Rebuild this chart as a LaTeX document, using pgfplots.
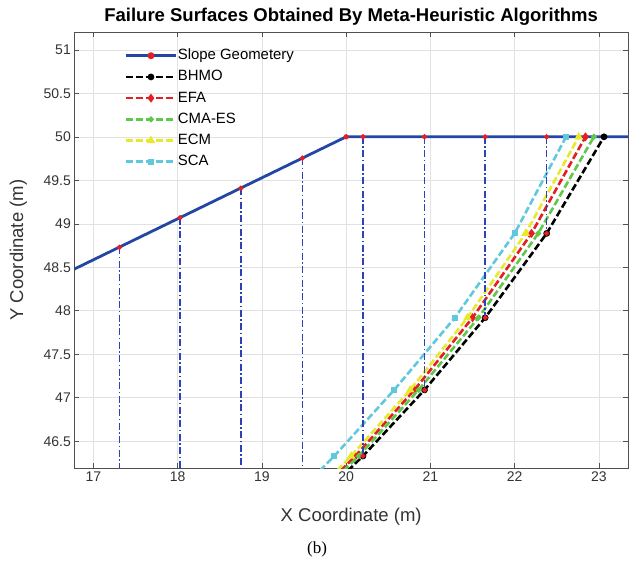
\documentclass[border=0pt]{standalone}
\usepackage{pgfplots}
\pgfplotsset{compat=1.18}
\usepackage{fontspec}
\setmainfont{Liberation Sans}
\newfontfamily\capfont{Liberation Serif}
\definecolor{slopeblue}{RGB}{35,70,165}
\definecolor{sliceblue}{RGB}{45,65,185}
\definecolor{mred}{RGB}{228,30,36}
\definecolor{mgreen}{RGB}{95,200,75}
\definecolor{myellow}{RGB}{232,232,45}
\definecolor{mcyan}{RGB}{95,200,220}
\definecolor{gridgray}{RGB}{226,226,226}
\definecolor{axgray}{RGB}{80,80,80}
\begin{document}
\begin{tikzpicture}
\useasboundingbox (-74.3pt,-93.7pt) rectangle (557.4pt,468pt);
\begin{axis}[
  scale only axis, width=553.4pt, height=436pt,
  xmin=16.775, xmax=23.345, ymin=46.19, ymax=51.205,
  xtick={17,18,19,20,21,22,23},
  ytick={46.5,47,47.5,48,48.5,49,49.5,50,50.5,51},
  /pgf/number format/assume math mode=true,
  /pgf/number format/fixed,
  grid=major, major grid style={gridgray, line width=0.6pt},
  tick align=inside, major tick length=5pt,
  tick style={axgray, line width=0.6pt},
  axis line style={axgray, line width=0.9pt},
  ticklabel style={font=\fontsize{14}{14}\selectfont, text=black!80},
  clip marker paths=true,
  title={\bfseries Failure Surfaces Obtained By Meta-Heuristic Algorithms},
  title style={font=\fontsize{18.5}{19}\selectfont, at={(axis description cs:0.5,1)}, anchor=base, yshift=5pt},
  xlabel={X Coordinate (m)},
  ylabel={Y Coordinate (m)},
  xlabel style={font=\fontsize{18.5}{19}\selectfont, text=black!80, at={(axis description cs:0.5,0)}, anchor=center, yshift=-48pt},
  ylabel style={font=\fontsize{18.5}{19}\selectfont, text=black!80, at={(axis description cs:-0.101,0.5)}, anchor=center},
  legend style={at={(rel axis cs:0,1)}, anchor=north west, xshift=50pt, yshift=-16pt,
    draw=none, fill=none, inner sep=0pt, row sep=6.2pt,
    font=\fontsize{14.9}{14.9}\selectfont,
    nodes={inner sep=0.5pt, text height=11pt, text depth=3pt},
    /tikz/every even column/.append style={column sep=3pt}},
  legend cell align=left,
  legend image code/.code={\draw[mark repeat=2,mark phase=2,#1] plot coordinates {(0pt,0pt) (25pt,0pt) (50pt,0pt)};},
]
\addlegendimage{slopeblue, line width=2.8pt, mark=*, mark size=2pt, mark options={mred, draw=mred}}
\addlegendentry{Slope Geometery}
% slope geometry
\addplot[slopeblue, line width=2.8pt, forget plot] coordinates {(16.5,48.35) (20.0,50.0) (23.5,50.0)};
% BHMO
\addplot[black, line width=2.6pt, dash pattern=on 7pt off 3pt, mark=*, mark size=2pt, mark options={solid}]
  coordinates {(19.85,46.0) (20.2,46.33) (20.93,47.09) (21.65,47.92) (22.38,48.89) (23.06,50.0)};
\addlegendentry{BHMO}
% EFA
\addplot[mred, line width=2.6pt, dash pattern=on 7pt off 3pt, mark=diamond*, mark size=2.4pt, mark options={solid}]
  coordinates {(19.77,46.0) (20.11,46.33) (20.81,47.09) (21.50,47.92) (22.20,48.89) (22.84,50.0)};
\addlegendentry{EFA}
% CMA-ES
\addplot[mgreen, line width=2.6pt, dash pattern=on 7pt off 3pt, mark=*, mark size=1.4pt, mark options={solid}]
  coordinates {(19.80,46.0) (20.15,46.33) (20.86,47.09) (21.57,47.92) (22.28,48.89) (22.94,50.0)};
\addlegendentry{CMA-ES}
% ECM
\addplot[myellow, line width=2.6pt, dash pattern=on 7pt off 3pt, mark=triangle*, mark size=2.4pt, mark options={solid}]
  coordinates {(19.73,46.0) (20.06,46.33) (20.76,47.09) (21.44,47.92) (22.13,48.89) (22.76,50.0)};
\addlegendentry{ECM}
% SCA
\addplot[mcyan, line width=2.6pt, dash pattern=on 7pt off 3pt, mark=square*, mark size=1.8pt, mark options={solid}]
  coordinates {(19.52,46.0) (19.86,46.33) (20.57,47.09) (21.29,47.92) (22.00,48.89) (22.61,50.0)};
\addlegendentry{SCA}
% slices
\pgfplotsset{slice/.style={sliceblue, line width=1.5pt, dash pattern=on 7pt off 2.5pt on 1.5pt off 2.5pt, mark=*, mark size=1.8pt, mark options={solid, mred, draw=mred}, forget plot}}
\addplot[slice, mark indices={1}] coordinates {(17.31,48.73) (17.31,46.19)};
\addplot[slice, mark indices={1}] coordinates {(18.03,49.07) (18.03,46.19)};
\addplot[slice, mark indices={1}] coordinates {(18.75,49.41) (18.75,46.19)};
\addplot[slice, mark indices={1}] coordinates {(19.48,49.755) (19.48,46.19)};
\addplot[slice] coordinates {(20.2,50.0) (20.2,46.33)};
\addplot[slice] coordinates {(20.93,50.0) (20.93,47.09)};
\addplot[slice] coordinates {(21.65,50.0) (21.65,47.92)};
\addplot[slice] coordinates {(22.38,50.0) (22.38,48.89)};
\addplot[only marks, mark=*, mark size=2.4pt, mred, forget plot] coordinates {(20.0,50.0)};
\end{axis}
\node[font=\capfont\fontsize{17}{17}\selectfont] at (242.7pt,-80.7pt) {(b)};
\end{tikzpicture}
\end{document}
